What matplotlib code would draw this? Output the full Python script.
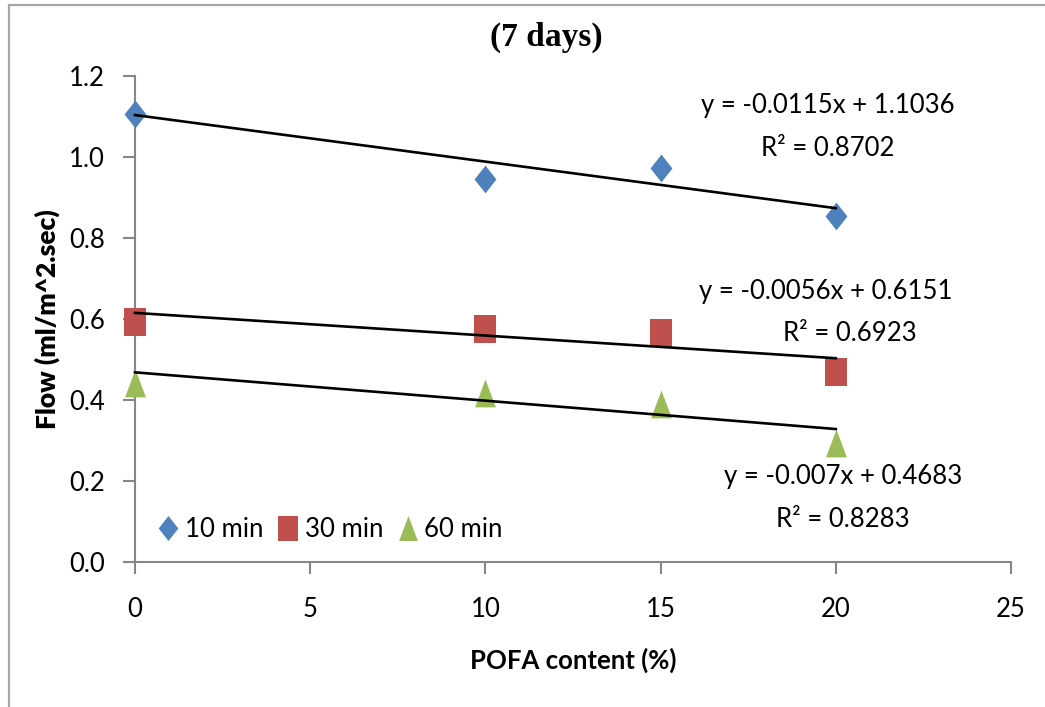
import matplotlib
matplotlib.use("Agg")
import matplotlib.pyplot as plt
from matplotlib.patches import Rectangle
import numpy as np

# ---- data ----
pofa = [0, 10, 15, 20]
flow_10 = [1.105, 0.946, 0.973, 0.854]
flow_30 = [0.593, 0.575, 0.565, 0.469]
flow_60 = [0.442, 0.417, 0.390, 0.294]
series_names = ["10 min", "30 min", "60 min"]
fit_slopes = [-0.0115, -0.0056, -0.007]
fit_intercepts = [1.1036, 0.6151, 0.4683]
eq_labels = ["y = -0.0115x + 1.1036", "y = -0.0056x + 0.6151", "y = -0.007x + 0.4683"]
r2_labels = ["R² = 0.8702", "R² = 0.6923", "R² = 0.8283"]
x_ticks = [0, 5, 10, 15, 20, 25]
y_ticks = [0.0, 0.2, 0.4, 0.6, 0.8, 1.0, 1.2]

FONT = ["Lato", "DejaVu Sans"]
plt.rcParams["font.family"] = FONT

fig = plt.figure(figsize=(10.45, 7.07), dpi=100)
W, H = 1045, 707
# outer chart border (top and left visible)
fig.patches.append(Rectangle((9 / W, -0.1), 1.2, (707 - 5) / H + 0.1, transform=fig.transFigure,
                             fill=False, edgecolor="#a6a6a6", linewidth=1.6))

ax = fig.add_axes([135 / W, (707 - 562) / H, (1011 - 135) / W, (562 - 76) / H])

diamond = [(0, 0.5), (0.393, 0), (0, -0.5), (-0.393, 0), (0, 0.5)]
square = [(-0.393, -0.5), (0.393, -0.5), (0.393, 0.5), (-0.393, 0.5), (-0.393, -0.5)]
triangle = [(0, 0.5), (-0.375, -0.5), (0.375, -0.5), (0, 0.5)]
markers = [diamond, square, triangle]
colors = ["#4F81BD", "#C0504D", "#9BBB59"]
all_series = [flow_10, flow_30, flow_60]

for vals, name, m, c in zip(all_series, series_names, markers, colors):
    ax.plot(pofa, vals, linestyle="none", marker=m, markersize=20, color=c,
            markeredgewidth=0, label=name, zorder=3, clip_on=False)

xs = np.array([pofa[0], pofa[-1]], dtype=float)
for s, b in zip(fit_slopes, fit_intercepts):
    ax.plot(xs, s * xs + b, color="black", linewidth=1.9, zorder=4, clip_on=False)

fs = 18.5
eq_pos = [(19.78, 1.128), (19.72, 0.669), (20.2, 0.210)]
r2_pos = [(19.78, 1.022), (20.4, 0.565), (20.2, 0.104)]
for (ex, ey), (rx, ry), e, r in zip(eq_pos, r2_pos, eq_labels, r2_labels):
    ax.text(ex, ey, e, ha="center", va="center", fontsize=fs)
    ax.text(rx, ry, r, ha="center", va="center", fontsize=fs)

ax.set_xlim(0, 25)
ax.set_ylim(0, 1.2)
ax.set_xticks(x_ticks)
ax.set_xticklabels([str(t) for t in x_ticks])
ax.set_yticks(y_ticks)
ax.set_yticklabels([f"{t:.1f}" for t in y_ticks])
for sp in ["top", "right"]:
    ax.spines[sp].set_visible(False)
for sp in ["left", "bottom"]:
    ax.spines[sp].set_color("#868686")
    ax.spines[sp].set_linewidth(1.5)
ax.tick_params(axis="both", direction="out", color="#868686", width=1.5, length=8.5, labelsize=fs)
ax.tick_params(axis="y", pad=13)
ax.tick_params(axis="x", pad=17)

ax.set_xlabel("POFA content (%)", fontsize=fs, fontweight="bold", labelpad=18)
ax.set_ylabel("Flow (ml/m^2.sec)", fontsize=19, fontweight="heavy", labelpad=7)

fig.text(546 / W, 1 - 37 / H, "(7 days)", ha="center", va="center", fontsize=24,
         fontweight="bold", family=["Liberation Serif", "DejaVu Serif"])

leg = ax.legend(loc="lower left", bbox_to_anchor=(0.0, 0.005), ncol=3, frameon=False,
                fontsize=fs, handletextpad=0.05, columnspacing=0.35, markerscale=0.9,
                handlelength=1.2, borderaxespad=0.3)

fig.savefig("out.png", dpi=100)
